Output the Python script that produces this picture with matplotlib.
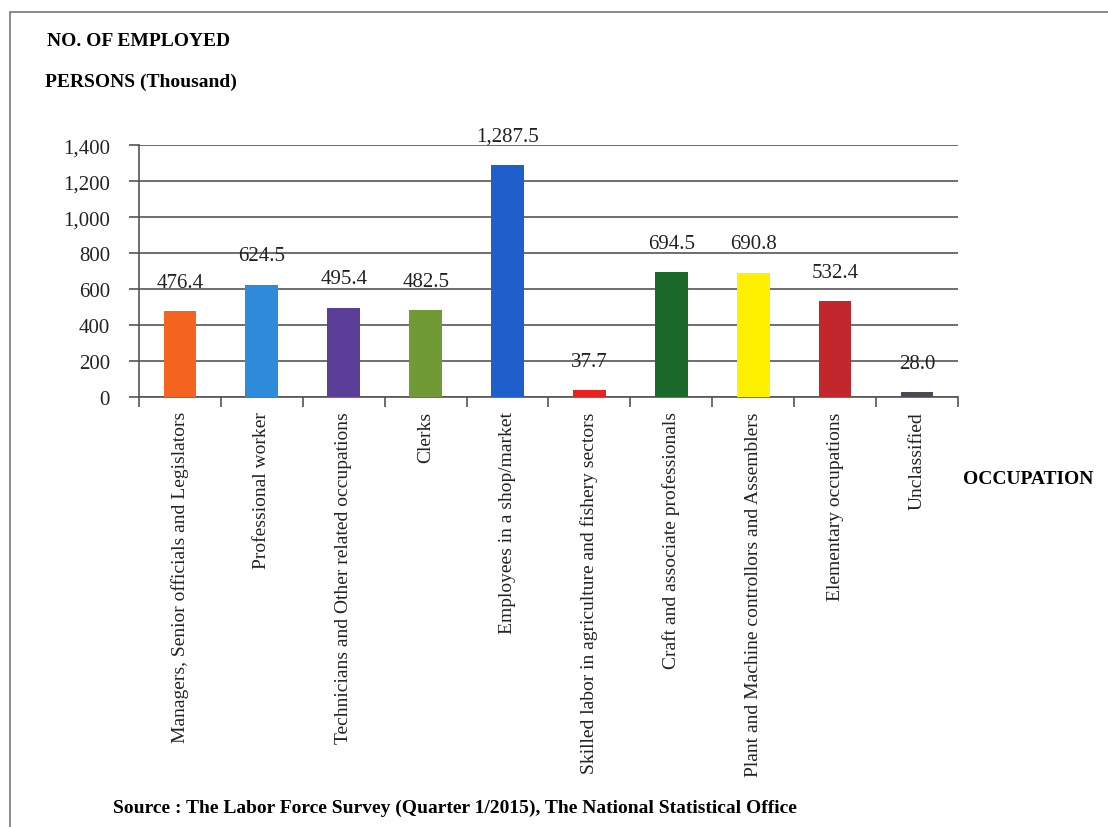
import matplotlib.pyplot as plt
import numpy as np
from matplotlib.patches import Rectangle

plt.rcParams['font.family'] = ['Liberation Serif', 'DejaVu Serif']

# data
occupations = [
    "Managers, Senior officials and Legislators",
    "Professional worker",
    "Technicians and Other related occupations",
    "Clerks",
    "Employees in a shop/market",
    "Skilled labor in agriculture and fishery sectors",
    "Craft and associate professionals",
    "Plant and Machine controllors and Assemblers",
    "Elementary occupations",
    "Unclassified",
]
employed = [476.4, 624.5, 495.4, 482.5, 1287.5, 37.7, 694.5, 690.8, 532.4, 28.0]
bar_colors = ["#F5641E", "#2E8BDA", "#5A3E98", "#6F9A35", "#1E5FCB",
              "#E8221E", "#1C6A2B", "#FFF000", "#C2272D", "#474954"]

fig = plt.figure(figsize=(11.08, 8.28), dpi=100)
ax = fig.add_axes([0.1255, 0.519, 0.739, 0.3045])

x = np.arange(len(occupations))
ax.bar(x, employed, width=0.4, color=bar_colors, zorder=3)

# value labels
for xi, v in zip(x, employed):
    ax.annotate(f"{v:,.1f}", (xi, v), xytext=(0, 21), textcoords='offset points',
                ha='center', va='center', fontsize=15, color='#222222', zorder=4)

ax.set_xlim(-0.5, len(occupations) - 0.5)
ax.set_ylim(0, 1400)
ax.set_yticks(np.arange(0, 1401, 200))
ax.set_yticklabels([f"{t:,}" for t in range(0, 1401, 200)], fontsize=15,
                   color='#222222')
ax.yaxis.grid(True, color='#555555', linewidth=1.2, zorder=1)
ax.tick_params(axis='y', length=7, width=1.2, color='#555555', pad=14)

# category ticks between bars, labels at centres
ax.set_xticks(np.arange(-0.5, len(occupations)), minor=False)
ax.set_xticklabels([])
ax.set_xticks(x, minor=True)
ax.set_xticklabels(occupations, minor=True, rotation=90, fontsize=14,
                   va='top', ha='center', color='#222222')
ax.tick_params(axis='x', which='major', length=7, width=1.2, color='#555555')
ax.tick_params(axis='x', which='minor', length=0, pad=10)

for side in ['top', 'right']:
    ax.spines[side].set_visible(False)
for side in ['left', 'bottom']:
    ax.spines[side].set_color('#555555')
    ax.spines[side].set_linewidth(1.2)

fig.text(47 / 1108, 1 - 41 / 828, "NO. OF EMPLOYED", fontsize=14,
         fontweight='bold', va='center', ha='left')
fig.text(45 / 1108, 1 - 82 / 828, "PERSONS (Thousand)", fontsize=14,
         fontweight='bold', va='center', ha='left')
fig.text(963 / 1108, 1 - 480 / 828, "OCCUPATION", fontsize=14,
         fontweight='bold', va='center', ha='left')
fig.text(113 / 1108, 1 - 808 / 828,
         "Source : The Labor Force Survey (Quarter 1/2015), The National Statistical Office",
         fontsize=14, fontweight='bold', va='center', ha='left')

# page frame
fig.patches.append(Rectangle((10 / 1108, -0.1), 1.2, 1 - 13 / 828 + 0.1,
                             transform=fig.transFigure, fill=False,
                             edgecolor='#777777', linewidth=1.2))

fig.savefig("out.png", dpi=100)
